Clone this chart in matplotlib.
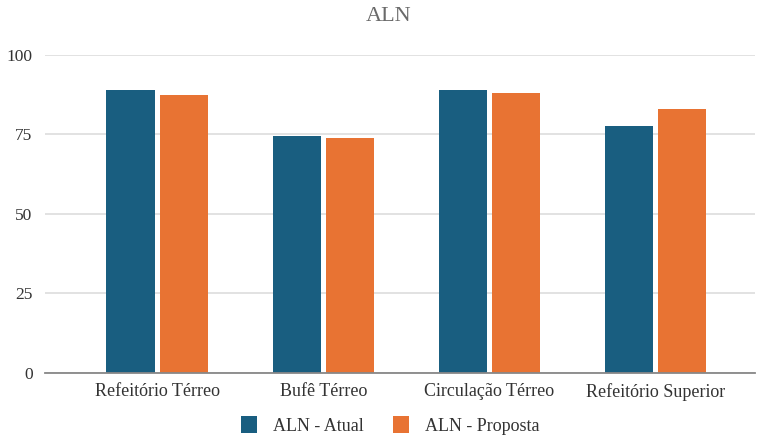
import matplotlib.pyplot as plt
import numpy as np

plt.rcParams['font.family'] = ['Liberation Serif', 'DejaVu Serif']

categories = ["Refeitório Térreo", "Bufê Térreo", "Circulação Térreo", "Refeitório Superior"]
atual = [89.1, 74.6, 89.0, 77.8]
proposta = [87.4, 74.0, 87.9, 82.9]
series_names = ["ALN - Atual", "ALN - Proposta"]
yticks = [0, 25, 50, 75, 100]

blue = "#195e80"
orange = "#e87333"

fig = plt.figure(figsize=(7.58, 4.37), dpi=100)
ax = fig.add_axes([0.0594, 0.1465, 0.9366, 0.7277])

x = np.arange(len(categories))
w = 0.29
off = 0.16
ax.bar(x - off, atual, w, color=blue, label=series_names[0], zorder=3)
ax.bar(x + off, proposta, w, color=orange, label=series_names[1], zorder=3)

ax.set_xlim(-0.675, 3.60)
ax.set_ylim(0, 100)
ax.set_yticks(yticks)
ax.set_xticks(x)
ax.set_xticklabels(categories)
ax.tick_params(axis='both', length=0, labelsize=13, colors="#333333")
ax.tick_params(axis='y', labelsize=12.5, pad=9)
ax.tick_params(axis='x', pad=7)
ax.grid(axis='y', color="#dddddd", linewidth=1.2, zorder=0)
for s in ["top", "right", "left"]:
    ax.spines[s].set_visible(False)
ax.spines["bottom"].set_color("#888888")
ax.spines["bottom"].set_linewidth(1.3)
ax.spines["bottom"].set_zorder(4)

fig.text(0.513, 0.962, "ALN", ha="center", va="center", fontsize=16,
         color="#6a6a6a")

leg = fig.legend(loc="center", bbox_to_anchor=(0.515, 0.027), ncol=2, frameon=False,
                 fontsize=13, handlelength=0.9, handleheight=1.1, columnspacing=1.6,
                 handletextpad=0.9)
for t in leg.get_texts():
    t.set_color("#333333")

fig.savefig("out.png", dpi=100)
